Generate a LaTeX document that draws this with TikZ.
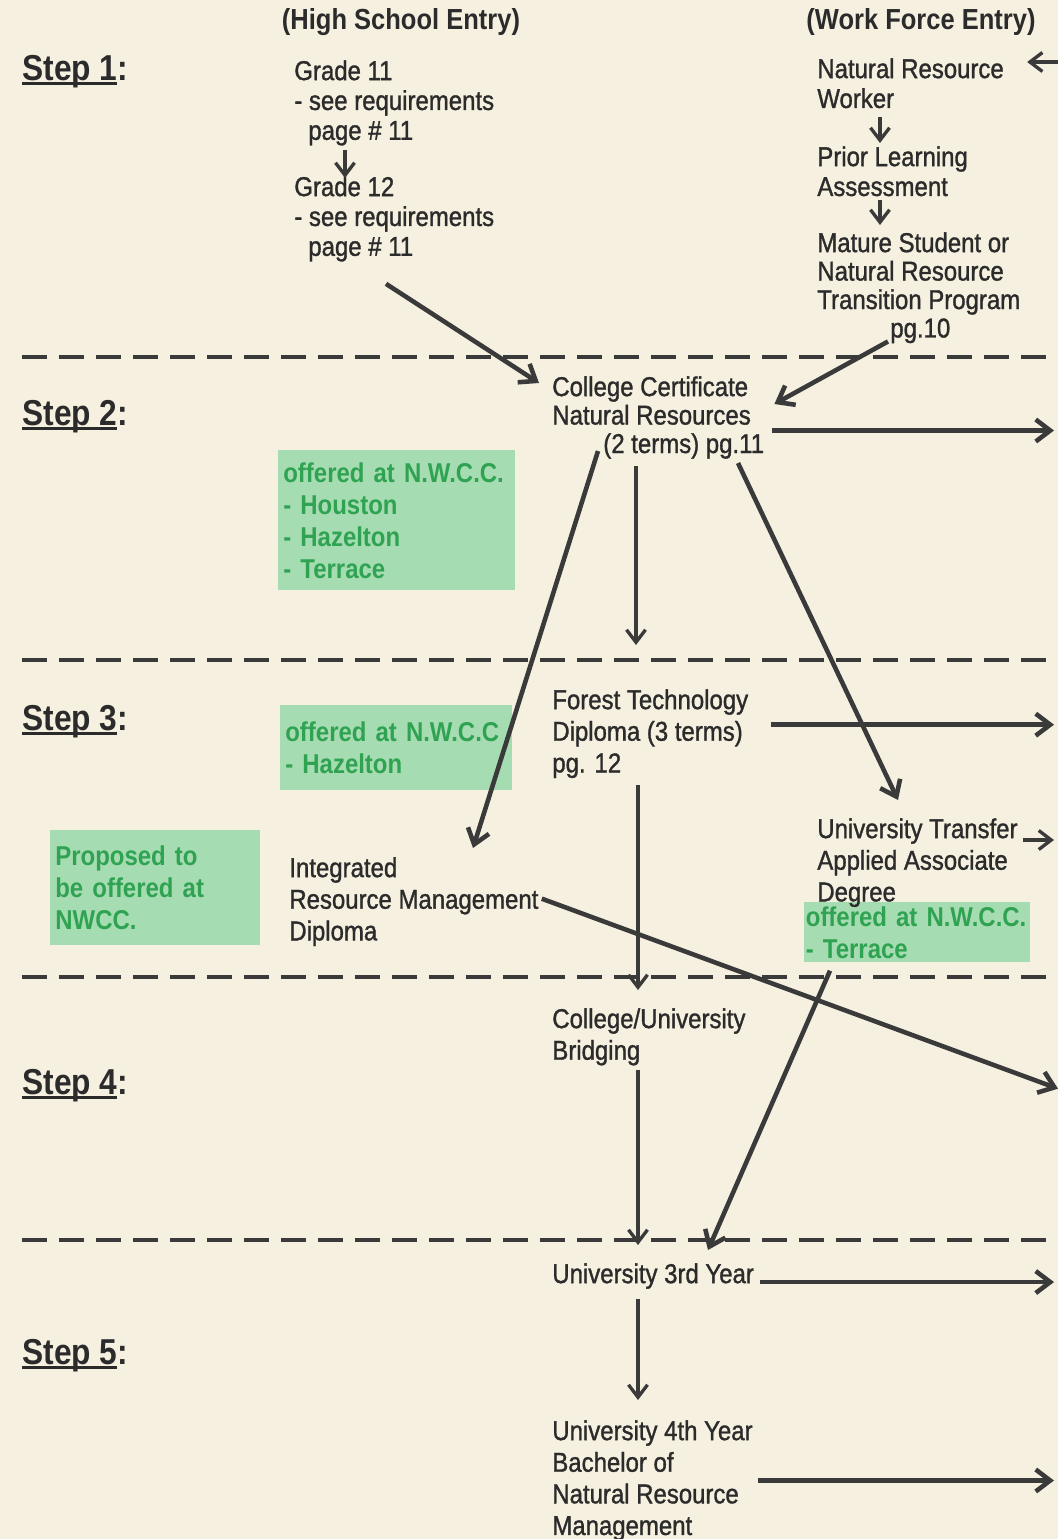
\documentclass[tikz,border=0pt]{standalone}
\usepackage{fontspec}
\setmainfont{Liberation Sans}[FakeStretch=0.88,UprightFeatures={FakeBold=1.2}]
\usetikzlibrary{arrows.meta,positioning,calc}
\definecolor{pgPaper}{HTML}{F5F0DF}
\definecolor{pgInk}{HTML}{2B2B2B}
\definecolor{pgLine}{HTML}{3A3A3A}
\definecolor{pgGreen}{HTML}{2FA352}
\definecolor{pgLightGreen}{HTML}{A6DCB2}
\newcommand{\bodysize}{\fontsize{15.5}{17}\selectfont}
\newcommand{\tightsize}{\fontsize{15.5}{16.2}\selectfont}
\newcommand{\loosesize}{\fontsize{15.5}{18}\selectfont}
\newcommand{\stepul}[1]{\setbox0\hbox{#1}\rlap{\rule[-2.4pt]{\wd0}{2pt}}\box0}
\tikzset{
  % plain text block
  tbox/.style={anchor=north west,inner sep=0pt,align=left,
    font=\bodysize,text=pgInk},
  % column heading
  hbox/.style={inner sep=0pt,font=\fontsize{16.5}{18}\selectfont\bfseries,
    text=pgInk},
  % step label
  stepbox/.style={anchor=west,inner sep=0pt,
    font=\fontsize{20.5}{22}\selectfont\bfseries,text=pgInk},
  % green campus box
  obox/.style={anchor=north west,rectangle,fill=pgLightGreen,align=left,
    inner xsep=0.1cm,inner ysep=0pt,
    font=\fontsize{15.5}{18.2}\selectfont\bfseries,text=pgGreen},
  % arrows
  arr/.style={-{Straight Barb[length=2.9mm,width=4.4mm]},line width=2.6pt,
    color=pgLine},
  arrs/.style={-{Straight Barb[length=2.5mm,width=3.8mm]},line width=1.9pt,
    color=pgLine},
  sepline/.style={line width=2.2pt,color=pgLine,
    dash pattern=on 0.5cm off 0.24cm},
}

\begin{document}
\begin{tikzpicture}[x=0.02cm,y=-0.02cm]

  \fill[pgPaper] (0,0) rectangle (1058,1539);
  \useasboundingbox (0,0) rectangle (1058,1539);
  \coordinate (edge) at (1054,0);

  % campus boxes
  \node[obox,text width=4.54cm,minimum height=2.8cm] (gb1)
    at (278,450) {offered at N.W.C.C.\\- Houston\\- Hazelton\\- Terrace};
  \node[obox,text width=4.44cm,minimum height=1.7cm] (gb2)
    at (280,705) {offered at N.W.C.C\\- Hazelton};
  \node[obox,text width=4.0cm,minimum height=2.3cm] (gb3)
    at (50,830) {Proposed to\\be offered at\\NWCC.};
  \node[obox,inner xsep=0.03cm,text width=4.46cm,minimum height=1.2cm] (gb4)
    at (804,902) {offered at N.W.C.C.\\- Terrace};

  % headings and steps
  \node[hbox] (hs) at (401,22) {(High School Entry)};
  \node[hbox] (wf) at (921,22) {(Work Force Entry)};
  \node[stepbox] (st1) at (22,72) {\stepul{Step 1}:};
  \node[stepbox] (st2) at (22,417) {\stepul{Step 2}:};
  \node[stepbox] (st3) at (22,722) {\stepul{Step 3}:};
  \node[stepbox] (st4) at (22,1086) {\stepul{Step 4}:};
  \node[stepbox] (st5) at (22,1356) {\stepul{Step 5}:};

  \foreach \yy in {357,660,977,1240}
    \draw[sepline] (22,\yy) -- (1058,\yy);

  % high school column
  \node[tbox] (g11) at (294,60)
    {Grade 11\\- see requirements\\\hspace{0.28cm}page \# 11};
  \node[tbox] (g12) at (294,176)
    {Grade 12\\- see requirements\\\hspace{0.28cm}page \# 11};

  % work force column
  \node[tbox] (nrw) at (817,58) {Natural Resource\\Worker};
  \node[tbox] (pla) at (817,146) {Prior Learning\\Assessment};
  \node[tbox,font=\tightsize] (mat) at (817,232)
    {Mature Student or\\Natural Resource\\Transition Program\\\hspace{1.46cm}pg.10};

  % programs
  \node[tbox,font=\tightsize] (ccnr) at (552,376)
    {College Certificate\\Natural Resources\\\hspace{1.02cm}(2 terms) pg.11};
  \node[tbox,font=\loosesize] (ftd) at (552,689)
    {Forest Technology\\Diploma (3 terms)\\pg. 12};
  \node[tbox,font=\loosesize] (irm) at (289,857)
    {Integrated\\Resource Management\\Diploma};
  \node[tbox,font=\loosesize] (uta) at (817,818)
    {University Transfer\\Applied Associate\\Degree};
  \node[tbox,font=\loosesize] (cub) at (552,1008) {College/University\\Bridging};
  \node[tbox] (u3) at (552,1263) {University 3rd Year};
  \node[tbox,font=\loosesize] (u4) at (552,1420)
    {University 4th Year\\Bachelor of\\Natural Resource\\Management};

  % entry arrows
  \draw[arrs] ($(g11.south west)+(51,4)$) coordinate (s) -- ($(s |- g12.north)+(0,2)$);
  \draw[arrs] ($(nrw.south west)+(63,8)$) coordinate (s) -- ($(s |- pla.north)+(0,-3)$);
  \draw[arrs] ($(pla.south west)+(63,3)$) coordinate (s) -- ($(s |- mat.north)+(0,-7)$);
  \draw[arrs] ($(edge |- nrw.north)+(4,4)$) coordinate (s) -- ($(nrw.north east)+(23,4)$);
  \draw[arr] ($(g12.south west)+(92,22)$) -- ($(ccnr.north west)+(-13,7)$);
  \draw[arr] ($(mat.south west)+(71,-2)$) -- ($(ccnr.north east)+(10,28)$);

  % program arrows
  \draw[arr] ($(ccnr.south west)+(46,-8)$) -- ($(irm.north west)+(184,-9)$);
  \draw[arrs] ($(ccnr.south west)+(84,7)$) coordinate (s) -- ($(s |- ftd.north)+(0,-44)$);
  \draw[arr] ($(ccnr.south west)+(186,4)$) -- ($(uta.north west)+(81,-18)$);
  \draw[arrs] ($(ftd.south west)+(86,7)$) coordinate (s) -- ($(s |- cub.north)+(0,-18)$);
  \draw[arr] ($(irm.east)+(3,-3)$) -- ($(edge |- irm.east)+(4,187)$);
  \draw[arr] ($(gb4.south west)+(26,8)$) -- ($(u3.north west)+(156,-13)$);
  \draw[arrs] ($(cub.south west)+(86,4)$) coordinate (s) -- ($(s |- u3.north)+(0,-18)$);
  \draw[arrs] ($(u3.south west)+(86,10)$) coordinate (s) -- ($(s |- u4.north)+(0,-20)$);

  % arrows off the page
  \foreach \nd/\dx/\dy in {ccnr/8/13,ftd/22/-9,u3/6/6,u4/5/0}
    \draw[arr] ($(\nd.east)+(\dx,\dy)$) coordinate (s) -- (s -| edge);
  \draw[arrs] ($(uta.north east)+(5,22)$) coordinate (s) -- (s -| edge);

\end{tikzpicture}
\end{document}
